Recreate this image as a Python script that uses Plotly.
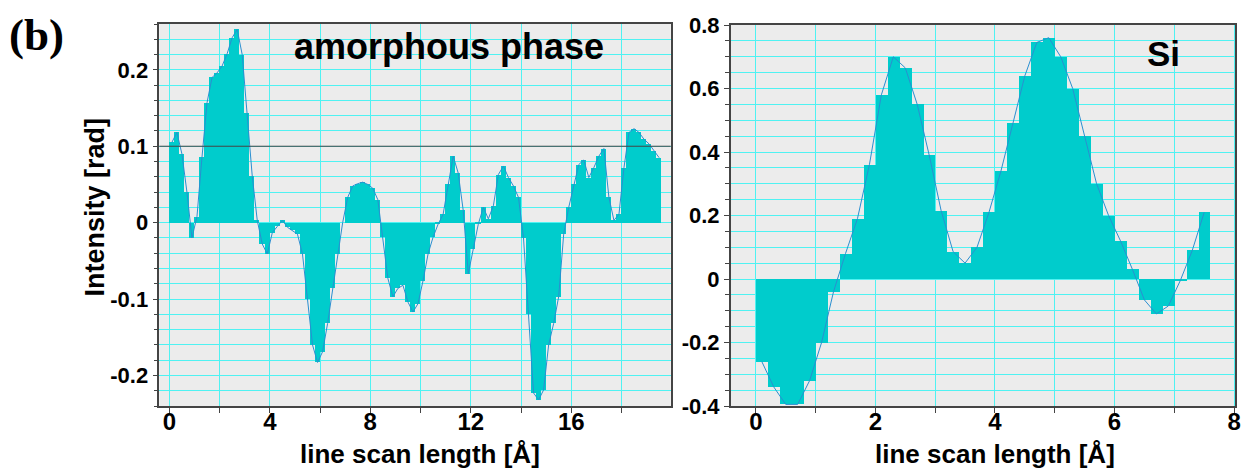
import numpy as np
import plotly.graph_objects as go

# ---- data -------------------------------------------------------------
# phase profile along the line scan, amorphous region (0.2 Å sampling)
amorph_step = 0.2
amorph_values = [
    0.105, 0.118, 0.090, 0.040, -0.020, 0.008, 0.086, 0.157, 0.190, 0.196,
    0.205, 0.221, 0.242, 0.253, 0.220, 0.143, 0.061, 0.003, -0.028, -0.041,
    -0.013, -0.005, 0.003, -0.006, -0.010, -0.015, -0.041, -0.100, -0.160, -0.183,
    -0.169, -0.132, -0.086, -0.041, 0.000, 0.033, 0.048, 0.051, 0.053, 0.050,
    0.045, 0.030, -0.019, -0.073, -0.097, -0.086, -0.082, -0.104, -0.117, -0.106,
    -0.076, -0.041, -0.019, -0.002, 0.011, 0.050, 0.087, 0.065, 0.016, -0.067,
    -0.034, -0.002, 0.020, 0.005, 0.022, 0.063, 0.074, 0.059, 0.048, 0.033,
    -0.020, -0.120, -0.223, -0.232, -0.219, -0.160, -0.132, -0.097, -0.015, 0.020,
    0.050, 0.076, 0.082, 0.059, 0.072, 0.087, 0.097, 0.033, 0.003, 0.011,
    0.072, 0.118, 0.123, 0.118, 0.109, 0.103, 0.094, 0.085,
]

# phase profile along the line scan, crystalline Si (0.2 Å sampling)
si_step = 0.2
si_values = [
    -0.26, -0.34, -0.395, -0.395, -0.32, -0.20, -0.04, 0.08, 0.19, 0.36,
    0.58, 0.70, 0.665, 0.55, 0.39, 0.215, 0.086, 0.05, 0.10, 0.21,
    0.34, 0.49, 0.64, 0.745, 0.76, 0.70, 0.60, 0.45, 0.30, 0.20,
    0.12, 0.03, -0.066, -0.11, -0.085, -0.005, 0.09, 0.21,
]

amorph_reference = 0.1

# tick labels
amorph_xticks = [0, 4, 8, 12, 16]
amorph_yticks = [-0.2, -0.1, 0, 0.1, 0.2]
amorph_yticktext = ["-0.2", "-0.1", "0", "0.1", "0.2"]
si_xticks = [0, 2, 4, 6, 8]
si_yticks = [-0.4, -0.2, 0, 0.2, 0.4, 0.6, 0.8]
si_yticktext = ["-0.4", "-0.2", "0", "0.2", "0.4", "0.6", "0.8"]

# ---- style ------------------------------------------------------------
W, H = 1242, 470
FILL = "#00CCCC"
LINE = "#2A8FD0"
GRID = "#4FF2F2"
BG = "#ECECEC"
AXIS = "#444444"
SANS = "Liberation Sans, Arial, sans-serif"
SERIF = "Liberation Serif, Times New Roman, serif"


def px_x(p):
    return p / W


def px_y(p):
    return 1 - p / H


amorph_x = np.arange(len(amorph_values)) * amorph_step + amorph_step / 2
si_x = np.arange(len(si_values)) * si_step + si_step / 2

fig = go.Figure()

# stepped fill + thin connecting line, amorphous phase
fig.add_trace(go.Bar(x=amorph_x, y=amorph_values, width=amorph_step,
                     marker=dict(color=FILL, line=dict(width=0)),
                     xaxis="x", yaxis="y", showlegend=False))
fig.add_trace(go.Scatter(x=amorph_x, y=amorph_values, mode="lines",
                         line=dict(color=LINE, width=1),
                         xaxis="x", yaxis="y", showlegend=False))

# stepped fill + thin connecting line, Si
fig.add_trace(go.Bar(x=si_x, y=si_values, width=si_step,
                     marker=dict(color=FILL, line=dict(width=0)),
                     xaxis="x2", yaxis="y2", showlegend=False))
fig.add_trace(go.Scatter(x=si_x, y=si_values, mode="lines",
                         line=dict(color=LINE, width=1),
                         xaxis="x2", yaxis="y2", showlegend=False))

ytickfont = dict(family=SANS, size=22, color="black", weight="bold")
xtickfont = dict(family=SANS, size=24, color="black", weight="bold")


def axis_common(font):
    return dict(showline=True, linecolor=AXIS, linewidth=1.5, mirror=True,
                ticks="outside", ticklen=5, tickcolor=AXIS, tickwidth=1,
                showgrid=True, gridcolor=GRID, gridwidth=1,
                zeroline=False, tickfont=font, fixedrange=True,
                automargin=False)


fig.update_layout(
    width=W, height=H, autosize=False,
    margin=dict(l=0, r=0, t=0, b=0),
    paper_bgcolor="white", plot_bgcolor=BG,
    bargap=0, barmode="overlay",
    xaxis=dict(**axis_common(xtickfont), domain=[px_x(159.3), px_x(670.7)],
               range=[-0.4, 19.96], anchor="y", ticklabelstandoff=-12,
               tickvals=amorph_xticks, ticktext=[str(v) for v in amorph_xticks],
               minor=dict(dtick=2, tick0=0, ticks="outside", ticklen=5,
                          tickcolor=AXIS, showgrid=True, gridcolor=GRID)),
    yaxis=dict(**axis_common(ytickfont), domain=[px_y(406), px_y(24)],
               range=[-0.24, 0.26], anchor="x",
               tickvals=amorph_yticks, ticktext=amorph_yticktext,
               minor=dict(dtick=0.02, tick0=0, ticks="outside", ticklen=4,
                          tickcolor=AXIS, showgrid=True, gridcolor=GRID)),
    xaxis2=dict(**axis_common(xtickfont), domain=[px_x(730.7), px_x(1235.3)],
                range=[-0.42, 8.02], anchor="y2", ticklabelstandoff=-12,
                tickvals=si_xticks, ticktext=[str(v) for v in si_xticks],
                minor=dict(dtick=1, tick0=0, ticks="outside", ticklen=5,
                           tickcolor=AXIS, showgrid=True, gridcolor=GRID)),
    yaxis2=dict(**axis_common(ytickfont), domain=[px_y(406), px_y(25)],
                range=[-0.4, 0.8], anchor="x2",
                tickvals=si_yticks, ticktext=si_yticktext,
                minor=dict(dtick=0.05, tick0=0, ticks="outside", ticklen=4,
                           tickcolor=AXIS, showgrid=True, gridcolor=GRID)),
)

# horizontal reference level in the amorphous panel
fig.add_shape(type="line", xref="x domain", yref="y", x0=0, x1=1,
              y0=amorph_reference, y1=amorph_reference,
              line=dict(color=AXIS, width=1), layer="above")

ann = []
ann.append(dict(text="(b)", x=px_x(36), y=px_y(35), xref="paper", yref="paper",
                showarrow=False, xanchor="center", yanchor="middle",
                font=dict(family=SERIF, size=45, color="black", weight="bold")))
ann.append(dict(text="amorphous phase", x=px_x(448.5), y=px_y(47), xref="paper",
                yref="paper", showarrow=False, xanchor="center", yanchor="middle",
                font=dict(family=SANS, size=36, color="black", weight="bold")))
ann.append(dict(text="Si", x=px_x(1163.5), y=px_y(53), xref="paper", yref="paper",
                showarrow=False, xanchor="center", yanchor="middle",
                font=dict(family=SANS, size=35, color="black", weight="bold")))
ann.append(dict(text="Intensity [rad]", x=px_x(94.5), y=px_y(207), xref="paper",
                yref="paper", showarrow=False, xanchor="center", yanchor="middle",
                textangle=-90,
                font=dict(family=SANS, size=27, color="black", weight="bold")))
for cx in (420, 995):
    ann.append(dict(text="line scan length [Å]", x=px_x(cx), y=px_y(454),
                    xref="paper", yref="paper", showarrow=False,
                    xanchor="center", yanchor="middle",
                    font=dict(family=SANS, size=26, color="black", weight="bold")))
fig.update_layout(annotations=ann)

fig.write_html("out.html")
